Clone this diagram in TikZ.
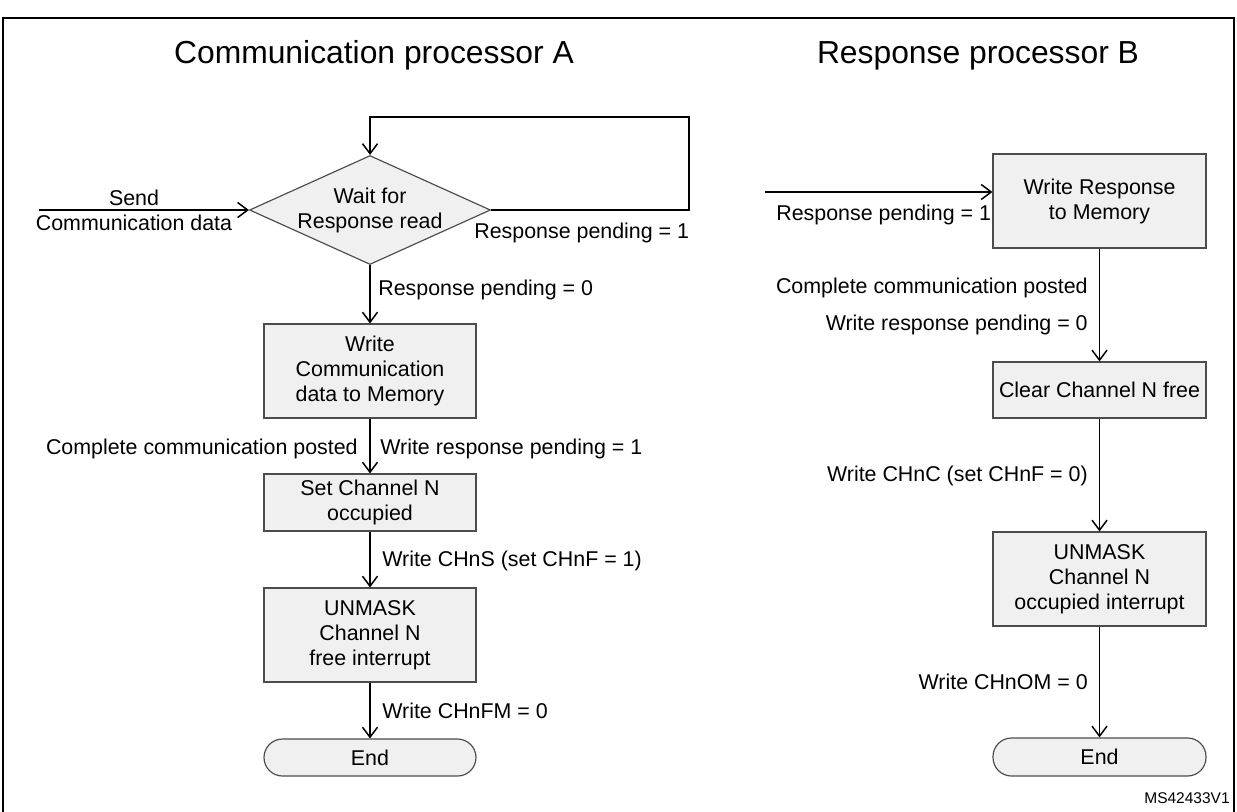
\documentclass[tikz,border=0pt]{standalone}
\usepackage{fontspec}
\setmainfont{Liberation Sans}
\usetikzlibrary{arrows.meta,shapes.geometric}
\newcommand\bodyfont{\fontsize{12.84pt}{15pt}\selectfont}
\newcommand\titlefont{\fontsize{19.1pt}{23pt}\selectfont}
\newcommand\msfont{\fontsize{9.3pt}{11pt}\selectfont}
\begin{document}
\begin{tikzpicture}[x=0.6pt,y=-0.6pt,
  box/.style={draw=black!70, fill=black!6, line width=0.7pt, minimum width=127.2pt, inner sep=0pt, align=center, font=\bodyfont},
  endbox/.style={box, rounded corners=11.1pt, minimum height=22.2pt},
  conn/.style={draw=black, line width=0.9pt, -{Straight Barb[length=6pt,width=9pt]}},
  lbl/.style={inner sep=0pt, font=\bodyfont},
  ttl/.style={inner sep=0pt, font=\titlefont, anchor=base},
]
\useasboundingbox (0,0) rectangle (1237,811);
% frame
\draw[line width=1.5pt] (3,815) -- (3,18) -- (1234,18) -- (1234,815);

% titles
\node[ttl] (tA) at (374,63) {Communication processor A};
\node[ttl] (tB) at (978,63) {Response processor B};

% left column
\node[diamond, draw=black!70, fill=black!6, line width=0.7pt, inner sep=0pt,
      minimum width=144.6pt, minimum height=65.4pt] (D) at (370,210) {};
\node[lbl, align=center] (Dt) at (370,210) {Wait for\\Response read};
\node[box, minimum height=56.4pt] (A1) at (370,371) {Write\\Communication\\data to Memory};
\node[box, minimum height=34.2pt] (A2) at (370,502.5) {Set Channel N\\occupied};
\node[box, minimum height=56.4pt] (A3) at (370,635) {UNMASK\\Channel N\\free interrupt};
\node[endbox] (A4) at (370,757.5) {End};

\coordinate (inA) at (39,210);
\coordinate (lp) at (689,117);
\draw[conn] (inA) -- (D.west);
\draw[conn] (D.east) -- (D.east -| lp) -- (lp) -- (lp -| D.north) -- (D.north);
\draw[conn] (D.south) -- (A1.north);
\draw[conn] (A1.south) -- (A2.north);
\draw[conn] (A2.south) -- (A3.north);
\draw[conn] (A3.south) -- (A4.north);

\node[lbl, align=center] (sendl) at (134,210) {Send\\Communication data};
\node[lbl, anchor=base west] (lA1) at (474,238.5) {Response pending = 1};
\node[lbl, anchor=base west] (lA2) at (378,295.5) {Response pending = 0};
\node[lbl, anchor=base east] (lA3) at (358,454.5) {Complete communication posted};
\node[lbl, anchor=base west] (lA4) at (380,454.5) {Write response pending = 1};
\node[lbl, anchor=base west] (lA5) at (382,566.5) {Write CHnS (set CHnF = 1)};
\node[lbl, anchor=base west] (lA6) at (382,718.5) {Write CHnFM = 0};

% right column
\node[box, minimum width=127.8pt, minimum height=56.4pt] (B1) at (1099.5,201) {Write Response\\to Memory};
\node[box, minimum width=127.8pt, minimum height=33.6pt] (B2) at (1099.5,390) {Clear Channel N free};
\node[box, minimum width=127.8pt, minimum height=56.4pt] (B3) at (1099.5,579) {UNMASK\\Channel N\\occupied interrupt};
\node[endbox, minimum width=127.8pt, minimum height=22.8pt] (B4) at (1099.5,757) {End};

\coordinate (inB) at (765,192);
\draw[conn] (inB) -- (inB -| B1.west);
\draw[conn] (B1.south) -- (B2.north);
\draw[conn] (B2.south) -- (B3.north);
\draw[conn] (B3.south) -- (B4.north);

\node[lbl, anchor=base west] (lB1) at (776,220.5) {Response pending = 1};
\node[lbl, anchor=base east] (lB2) at (1088,293.5) {Complete communication posted};
\node[lbl, anchor=base east] (lB3) at (1088,330.5) {Write response pending = 0};
\node[lbl, anchor=base east] (lB4) at (1088,481.5) {Write CHnC (set CHnF = 0)};
\node[lbl, anchor=base east] (lB5) at (1088,689.5) {Write CHnOM = 0};

\node[inner sep=0pt, font=\msfont, anchor=base east] (ms) at (1230,803.5) {MS42433V1};
\end{tikzpicture}
\end{document}
